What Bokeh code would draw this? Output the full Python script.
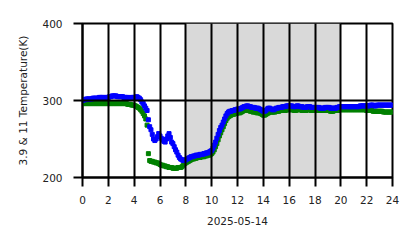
from bokeh.plotting import figure
from bokeh.models import BoxAnnotation, Range1d, FixedTicker, ColumnDataSource
from bokeh.embed import file_html
from bokeh.resources import INLINE

# sample times (hours), one every 6 minutes
hours = [i / 10 for i in range(241)]

# 3.9 temperature (blue), K
temp_blue = [
    300, 301, 301, 302, 302, 302, 302, 302, 303, 303,
    303, 303, 303, 304, 304, 304, 304, 303, 304, 304,
    304, 305, 305, 306, 306, 306, 306, 305, 305, 305,
    305, 305, 304, 304, 304, 304, 303, 303, 304, 304,
    304, 304, 305, 304, 303, 301, 298, 296, 293, 290,
    287, 275, 266, 262, 256, 250, 248, 250, 253, 257,
    254, 251, 249, 247, 246, 250, 254, 257, 252, 246,
    244, 240, 236, 233, 229, 226, 224, 223, 222, 222,
    223, 224, 225, 226, 227, 227, 228, 228, 229, 229,
    229, 230, 230, 230, 231, 231, 232, 232, 233, 234,
    235, 238, 242, 246, 251, 256, 261, 265, 268, 272,
    276, 280, 283, 285, 286, 286, 287, 287, 288, 288,
    289, 289, 289, 290, 291, 292, 292, 293, 293, 292,
    292, 291, 291, 291, 290, 290, 290, 289, 288, 287,
    286, 286, 287, 289, 290, 290, 289, 288, 288, 289,
    290, 290, 291, 291, 291, 292, 292, 292, 293, 293,
    293, 293, 293, 292, 292, 292, 293, 293, 292, 292,
    292, 291, 291, 291, 292, 292, 292, 291, 291, 291,
    291, 291, 291, 291, 290, 290, 290, 290, 291, 291,
    291, 291, 290, 290, 290, 290, 290, 291, 291, 292,
    292, 292, 292, 292, 292, 292, 292, 292, 292, 292,
    292, 292, 292, 292, 292, 293, 293, 293, 293, 293,
    293, 293, 293, 294, 294, 294, 293, 293, 294, 294,
    294, 294, 294, 294, 294, 294, 294, 294, 294, 294,
    294,
]

# 11 temperature (green), K
temp_green = [
    296, 296, 296, 296, 296, 296, 296, 296, 296, 296,
    296, 296, 296, 296, 296, 296, 296, 296, 296, 296,
    296, 296, 296, 296, 296, 296, 296, 296, 296, 296,
    296, 296, 296, 296, 296, 295, 295, 295, 294, 294,
    294, 293, 292, 291, 290, 288, 286, 283, 280, 276,
    268, 231, 222, 221, 221, 220, 220, 219, 219, 218,
    217, 216, 216, 215, 215, 214, 214, 213, 213, 213,
    212, 212, 212, 212, 213, 213, 213, 214, 216, 218,
    219, 220, 221, 222, 223, 224, 224, 225, 225, 226,
    226, 226, 227, 227, 227, 228, 228, 229, 229, 230,
    231, 233, 236, 240, 244, 249, 254, 258, 262, 266,
    270, 274, 277, 279, 280, 281, 282, 282, 283, 283,
    284, 284, 284, 285, 286, 287, 287, 287, 287, 287,
    286, 286, 285, 285, 285, 284, 284, 284, 283, 282,
    281, 281, 282, 283, 284, 285, 285, 285, 285, 285,
    286, 286, 286, 287, 287, 287, 287, 287, 288, 288,
    288, 288, 288, 288, 287, 287, 288, 288, 288, 288,
    287, 287, 287, 287, 288, 288, 288, 287, 287, 287,
    287, 287, 287, 287, 287, 287, 287, 287, 287, 287,
    287, 287, 286, 286, 286, 287, 287, 287, 287, 288,
    288, 288, 288, 288, 288, 288, 288, 288, 288, 288,
    288, 288, 288, 288, 288, 288, 288, 288, 288, 288,
    287, 287, 287, 287, 287, 286, 286, 286, 286, 286,
    286, 286, 286, 285, 285, 285, 285, 285, 285, 285,
    285,
]

x_ticks = [0, 2, 4, 6, 8, 10, 12, 14, 16, 18, 20, 22, 24]
y_ticks = [200, 300, 400]
night_start, night_end = 8, 20

FONT = "DejaVu Sans"
TEXT = "#222222"

p = figure(width=418, height=248, output_backend="svg", toolbar_location=None,
           x_range=Range1d(0, 24), y_range=Range1d(200, 400),
           min_border_left=82, min_border_right=26, min_border_top=23, min_border_bottom=71)
p.outline_line_color = "black"
p.outline_line_width = 2
p.background_fill_color = "white"
p.border_fill_color = "white"

p.add_layout(BoxAnnotation(left=night_start, right=night_end, fill_color="#d9d9d9",
                           fill_alpha=1.0, line_color=None, level="underlay"))

src = ColumnDataSource(dict(h=hours, b=temp_blue, g=temp_green))
p.scatter("h", "g", source=src, marker="square", size=4, color="#008000")
p.scatter("h", "b", source=src, marker="square", size=4, color="#0000ff")

for ax in (p.xaxis[0], p.yaxis[0]):
    ax.axis_line_width = 2
    ax.axis_line_color = "black"
    ax.major_tick_line_width = 2
    ax.major_tick_line_color = "black"
    ax.major_tick_out = 9
    ax.major_tick_in = 0
    ax.minor_tick_line_color = None
    ax.major_label_text_font = FONT
    ax.major_label_text_font_size = "10.5px"
    ax.major_label_text_color = TEXT
    ax.axis_label_text_font = FONT
    ax.axis_label_text_font_size = "10.5px"
    ax.axis_label_text_font_style = "normal"
    ax.axis_label_text_color = TEXT

p.xaxis[0].ticker = FixedTicker(ticks=x_ticks)
p.yaxis[0].ticker = FixedTicker(ticks=y_ticks)
p.xaxis[0].axis_label = "2025-05-14"
p.yaxis[0].axis_label = "3.9 & 11 Temperature(K)"
p.xaxis[0].major_label_standoff = 9
p.yaxis[0].major_label_standoff = 11
p.xaxis[0].axis_label_standoff = 10
p.yaxis[0].axis_label_standoff = 10

for g in (p.xgrid[0], p.ygrid[0]):
    g.grid_line_color = "black"
    g.grid_line_width = 2
    g.grid_line_alpha = 1.0
    g.level = "overlay"
p.xgrid[0].ticker = FixedTicker(ticks=x_ticks)
p.ygrid[0].ticker = FixedTicker(ticks=y_ticks)

open("out.html", "w").write(file_html(p, INLINE))
